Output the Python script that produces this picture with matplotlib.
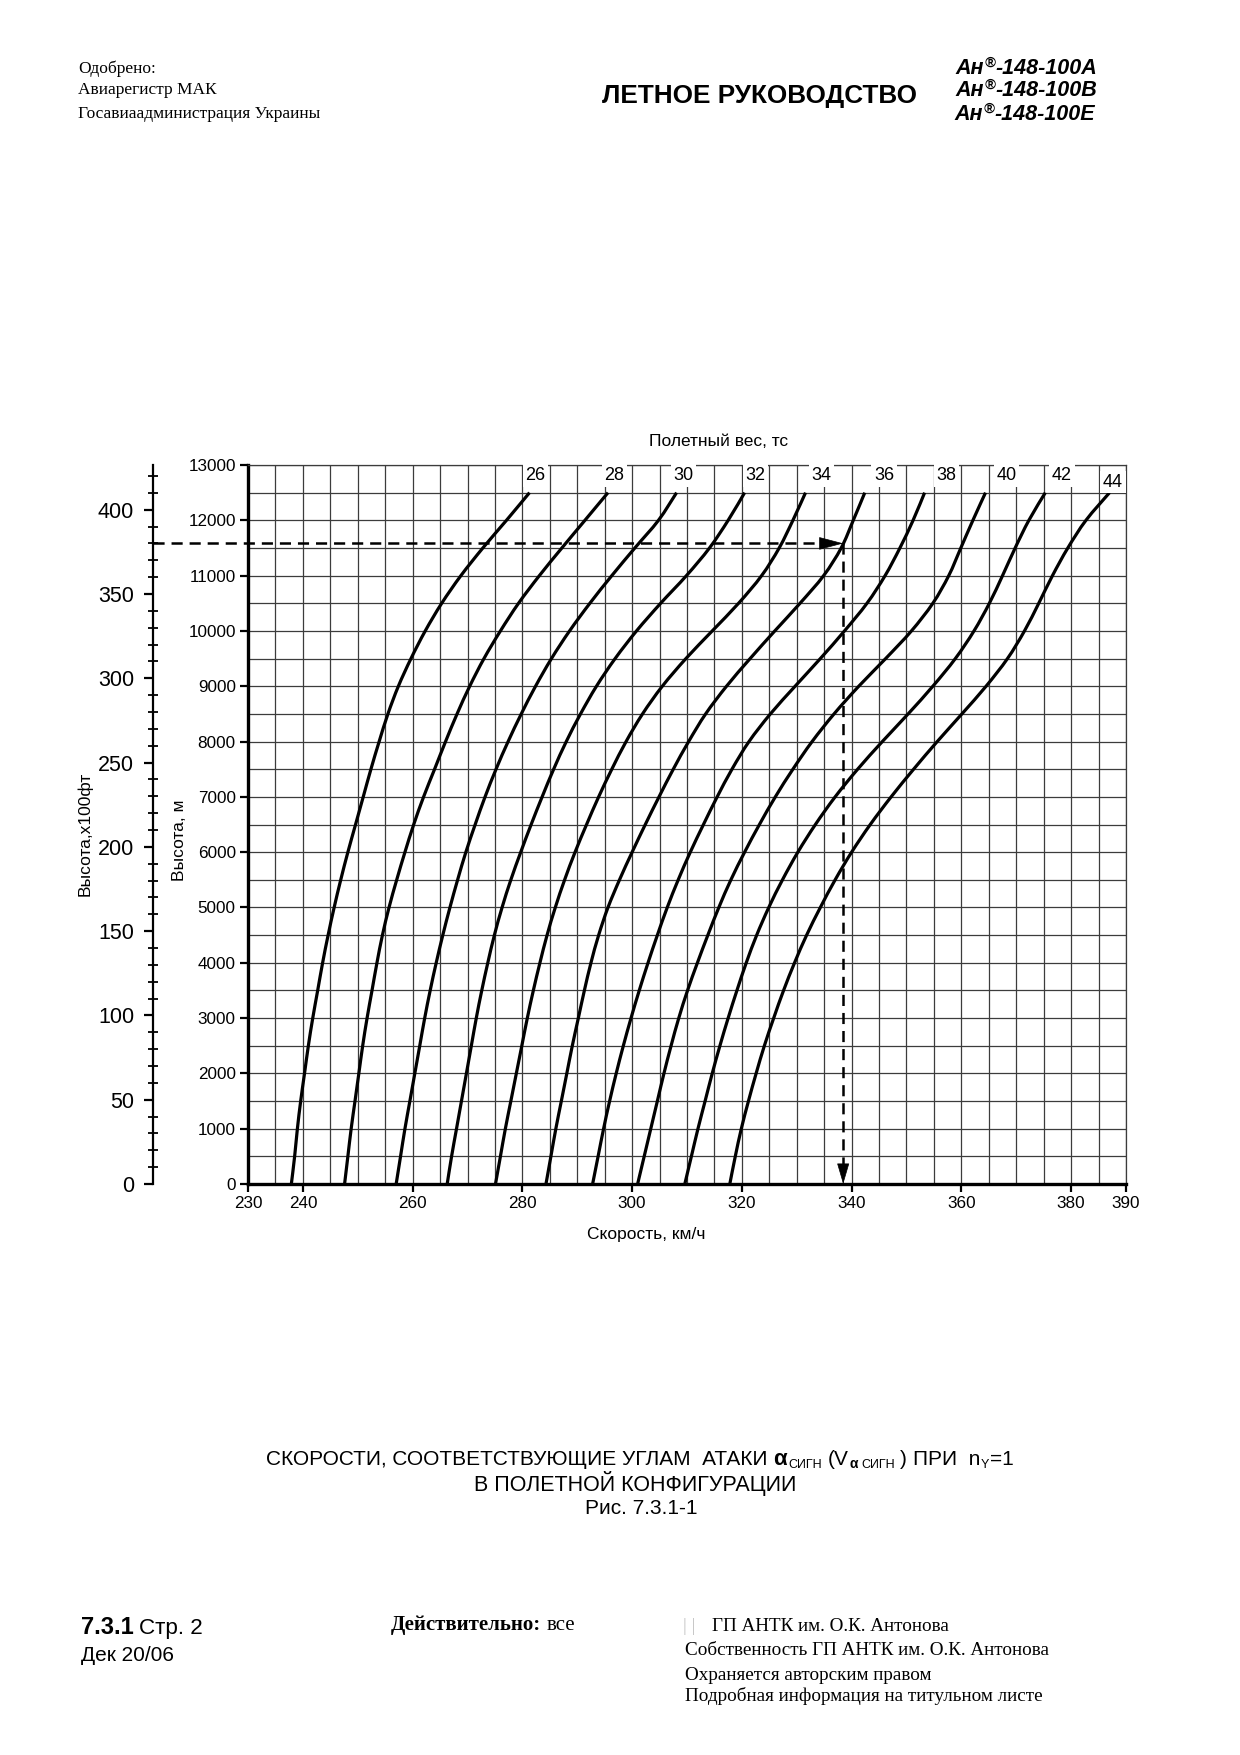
import numpy as np
import matplotlib
matplotlib.use("Agg")
import matplotlib.pyplot as plt
from matplotlib.ticker import MultipleLocator, FixedLocator
from matplotlib.path import Path
from matplotlib.patches import PathPatch

# ---------------- data ----------------
altitude_m = [0, 500, 1000, 1500, 2000, 2500, 3000, 3500, 4000, 4500, 5000, 5500, 6000,
              6500, 7000, 7500, 8000, 8500, 9000, 9500, 10000, 10500, 11000, 11500, 12000, 12500]

weights_t = [26, 28, 30, 32, 34, 36, 38, 40, 42, 44]

v26 = [237.9, 238.5, 239.0, 239.6, 240.3, 241.0, 241.8, 242.7, 243.6, 244.6, 245.7, 246.9, 248.2,
       249.6, 251.0, 252.4, 253.9, 255.5, 257.4, 259.7, 262.3, 265.3, 268.8, 272.8, 277.1, 281.3]
v28 = [247.6, 248.2, 248.8, 249.5, 250.2, 250.9, 251.7, 252.6, 253.5, 254.5, 255.7, 257.1, 258.6,
       260.2, 262.0, 264.0, 266.0, 268.1, 270.4, 273.0, 276.0, 279.3, 283.1, 287.2, 291.4, 295.6]
v30 = [257.0, 257.8, 258.6, 259.5, 260.4, 261.3, 262.2, 263.2, 264.3, 265.5, 266.8, 268.2, 269.7,
       271.4, 273.2, 275.2, 277.4, 279.8, 282.4, 285.3, 288.6, 292.3, 296.3, 300.5, 304.8, 308.1]
v32 = [266.3, 267.1, 268.0, 268.9, 269.8, 270.7, 271.6, 272.6, 273.7, 274.9, 276.3, 277.9, 279.7,
       281.6, 283.6, 285.7, 288.0, 290.6, 293.5, 296.9, 300.8, 305.2, 309.9, 314.1, 317.5, 320.5]
v34 = [275.1, 276.0, 276.9, 277.9, 278.9, 279.9, 280.9, 282.0, 283.2, 284.5, 286.0, 287.7, 289.6,
       291.7, 293.9, 296.3, 298.9, 301.9, 305.5, 309.8, 314.6, 319.4, 323.6, 326.8, 329.3, 331.6]
v36 = [284.3, 285.2, 286.1, 287.1, 288.1, 289.1, 290.2, 291.3, 292.5, 293.9, 295.6, 297.7, 300.0,
       302.4, 304.9, 307.5, 310.3, 313.4, 317.2, 321.5, 326.0, 330.6, 334.9, 338.1, 340.3, 342.4]
v38 = [292.8, 293.8, 294.8, 295.9, 297.1, 298.4, 299.8, 301.3, 302.9, 304.6, 306.4, 308.4, 310.6,
       313.0, 315.5, 318.2, 321.3, 325.2, 329.7, 334.3, 338.7, 342.8, 346.1, 348.8, 351.2, 353.3]
v40 = [301.0, 302.2, 303.4, 304.6, 305.8, 307.1, 308.5, 310.1, 311.9, 313.8, 315.8, 318.0, 320.5,
       323.2, 326.1, 329.3, 332.8, 336.8, 341.3, 346.2, 350.9, 354.8, 357.7, 359.9, 362.1, 364.4]
v42 = [309.6, 310.8, 312.0, 313.3, 314.6, 316.0, 317.5, 319.1, 320.8, 322.7, 324.9, 327.4, 330.2,
       333.4, 337.0, 341.1, 345.6, 350.3, 354.8, 358.9, 362.3, 365.1, 367.5, 369.8, 372.3, 375.3]
v44 = [317.8, 318.8, 319.9, 321.2, 322.6, 324.1, 325.8, 327.6, 329.6, 331.8, 334.3, 337.0, 340.0,
       343.4, 347.2, 351.3, 355.6, 360.1, 364.5, 368.4, 371.5, 374.1, 376.6, 379.4, 382.7, 387.0]
speed_series = [v26, v28, v30, v32, v34, v36, v38, v40, v42, v44]

# curve label anchor speeds (km/h) along the top row
label_speed = [282.4, 296.8, 309.4, 322.5, 334.5, 345.9, 357.3, 368.2, 378.3, 387.6]

x_ticks = [230, 240, 260, 280, 300, 320, 340, 360, 380, 390]
y_ticks_m = list(range(0, 13001, 1000))
ft_major = list(range(0, 401, 50))
ft_minor = list(range(0, 421, 10))

example_fl = 380          # x100 ft
example_weight = 36       # t

# ---------------- figure ----------------
W, H = 1240, 1755
plt.rcParams['lines.scale_dashes'] = False
SANS = ['Liberation Sans', 'DejaVu Sans']
SERIF = ['Liberation Serif', 'DejaVu Serif']
plt.rcParams['font.family'] = SANS

fig = plt.figure(figsize=(W / 100, H / 100), dpi=100)
renderer = fig.canvas.get_renderer()


def fx(x):
    return x / W


def fy(y):
    return 1 - y / H


def run(x, y, parts, ha='left'):
    items = []
    cx = 0.0
    for part in parts:
        s, props = part[0], part[1]
        dy = part[2] if len(part) > 2 else 0
        gap = part[3] if len(part) > 3 else 0
        cx += gap
        t = fig.text(0, 0, s, ha='left', va='baseline', **props)
        w = t.get_window_extent(renderer).width
        items.append((t, cx, dy))
        cx += w
    x0 = {'left': x, 'center': x - cx / 2, 'right': x - cx}[ha]
    for t, off, dy in items:
        t.set_position((fx(x0 + off), fy(y - dy)))


def smooth_path(xs, ys):
    """Smooth Catmull-Rom style Bezier path passing through every read point."""
    p = np.column_stack([xs, ys]).astype(float)
    n = len(p)
    verts = [p[0]]
    codes = [Path.MOVETO]
    for i in range(n - 1):
        p0 = p[i - 1] if i > 0 else p[i]
        p1, p2 = p[i], p[i + 1]
        p3 = p[i + 2] if i + 2 < n else p[i + 1]
        c1 = p1 + (p2 - p0) / 6.0
        c2 = p2 - (p3 - p1) / 6.0
        verts += [c1, c2, p2]
        codes += [Path.CURVE4] * 3
    return Path(verts, codes)


AX_L, AX_R, AX_T, AX_B = 248, 1126, 465, 1184
ax = fig.add_axes([fx(AX_L), fy(AX_B), (AX_R - AX_L) / W, (AX_B - AX_T) / H])
ax.set_xlim(230, 390)
ax.set_ylim(0, 13000)

GRID = '#3c3c3c'
ax.xaxis.set_minor_locator(MultipleLocator(5))
ax.yaxis.set_minor_locator(MultipleLocator(500))
ax.grid(which='both', color=GRID, lw=0.9, zorder=1)
ax.set_axisbelow(True)
ax.set_xticks(x_ticks)
ax.set_xticklabels([str(v) for v in x_ticks])
ax.set_yticks(y_ticks_m)
ax.set_yticklabels([str(v) for v in y_ticks_m])
ax.tick_params(which='minor', length=0)
ax.tick_params(which='major', direction='out', length=5.8, width=1.6, labelsize=12.3, pad=3, color='black')
for s in ['left', 'bottom']:
    ax.spines[s].set_linewidth(2.4)
for s in ['top', 'right']:
    ax.spines[s].set_linewidth(0.9)
    ax.spines[s].set_color(GRID)

for v in speed_series:
    ax.add_patch(PathPatch(smooth_path(v, altitude_m), fc='none', ec='black', lw=2.3,
                           zorder=4, capstyle='butt'))

for w, lx in zip(weights_t, label_speed):
    ly = 12690 if w == 44 else 12810
    ax.text(lx, ly, str(w), ha='center', va='center', fontsize=13, zorder=6, clip_on=False,
            bbox=dict(boxstyle='square,pad=0.15', fc='white', ec='none'))

# ---------------- feet axis ----------------
FT_X = 153
ax_ft = fig.add_axes([fx(FT_X), fy(AX_B), 0.0001, (AX_B - AX_T) / H])
ax_ft.patch.set_visible(False)
ax_ft.set_ylim(0, 13000 / 30.48)
ax_ft.set_xticks([])
for s in ['right', 'top', 'bottom']:
    ax_ft.spines[s].set_visible(False)
ax_ft.spines['left'].set_linewidth(1.6)
ax_ft.yaxis.set_major_locator(FixedLocator(ft_major))
ax_ft.yaxis.set_minor_locator(FixedLocator(ft_minor))
ax_ft.set_yticklabels([str(v) for v in ft_major])
ax_ft.tick_params(which='major', direction='out', length=6.5, width=1.6, labelsize=15.5, pad=7)
ax_ft.tick_params(which='minor', direction='inout', length=6.5, width=1.3)

# ---------------- example reading ----------------
example_alt = example_fl * 30.48
example_speed = float(np.interp(example_alt, altitude_m, speed_series[weights_t.index(example_weight)]))
x_ft_data = ax.transData.inverted().transform(fig.transFigure.transform((fx(FT_X), 0.5)))[0]

dash_kw = dict(color='black', lw=1.8, dashes=(8, 5), zorder=5, clip_on=False)
ax.plot([x_ft_data, example_speed - 3.6], [example_alt, example_alt], **dash_kw)
ax.plot([example_speed, example_speed], [example_alt, 330], **dash_kw)
ax.annotate('', xy=(example_speed, example_alt), xytext=(-16, 0), textcoords='offset points',
            arrowprops=dict(arrowstyle='-|>,head_length=0.8,head_width=0.21', mutation_scale=20,
                            color='black', lw=0.5, shrinkA=0, shrinkB=0), zorder=7)
ax.annotate('', xy=(example_speed, 0), xytext=(0, 13.5), textcoords='offset points',
            arrowprops=dict(arrowstyle='-|>,head_length=0.68,head_width=0.2', mutation_scale=20,
                            color='black', lw=0.5, shrinkA=0, shrinkB=0), zorder=7)

# ---------------- axis titles ----------------
fig.text(fx(719), fy(441), "Полетный вес, тс", ha='center', va='center', fontsize=12.5)
fig.text(fx(646), fy(1234), "Скорость, км/ч", ha='center', va='center', fontsize=12.5)
fig.text(fx(180), fy(840), "Высота, м", ha='center', va='center', rotation=90, fontsize=12.5)
fig.text(fx(85), fy(834), "Высота,х100фт", ha='center', va='center', rotation=90, fontsize=12.5)

# ---------------- header ----------------
HS = dict(fontsize=12.5, family=SERIF)
run(78, 73, [("Одобрено:", HS)])
run(78, 94, [("Авиарегистр МАК", HS)])
run(78, 118, [("Госавиаадминистрация Украины", HS)])
run(602, 103, [("ЛЕТНОЕ РУКОВОДСТВО", dict(fontsize=18.8, weight='bold'))])
MB = dict(fontsize=15.5, weight='bold', style='italic')
MS = dict(fontsize=10.5, weight='bold', style='italic')
for yb, name in [(74, "-148-100A"), (96, "-148-100B"), (120, "-148-100E")]:
    run(1097 if name[-1] != 'E' else 1095, yb, [("Ан", MB), ("®", MS, 7, 1), (name, MB)], ha='right')

# ---------------- caption ----------------
P = dict(fontsize=15)
SUB = dict(fontsize=9)
run(640, 1465, [("СКОРОСТИ, СООТВЕТСТВУЮЩИЕ УГЛАМ  АТАКИ", P),
                ("α", dict(fontsize=16, weight='bold'), 0, 6),
                ("СИГН", SUB, -3, 1),
                ("(V", P, 0, 6),
                ("α", dict(fontsize=10, weight='bold'), -3, 1),
                ("СИГН", SUB, -3, 3),
                (")", P, 0, 5),
                ("ПРИ  n", P, 0, 6),
                ("Y", SUB, -3, 1),
                ("=1", P, 0, 1)], ha='center')
run(635, 1491, [("В ПОЛЕТНОЙ КОНФИГУРАЦИИ", dict(fontsize=15.5))], ha='center')
run(641, 1514, [("Рис. 7.3.1-1", P)], ha='center')

# ---------------- footer ----------------
FS = dict(fontsize=13.8, family=SERIF)
run(81, 1634, [("7.3.1", dict(fontsize=17, weight='bold')), ("Стр. 2", dict(fontsize=16.2), 0, 5)])
run(81, 1661, [("Дек 20/06", dict(fontsize=15))])
run(391, 1630, [("Действительно:", dict(fontsize=15, family=SERIF, weight='bold')),
                ("все", dict(fontsize=15, family=SERIF), 0, 5)])
run(683, 1631, [("| |", dict(fontsize=13.8, family=SERIF, color='#c8c8c8')),
                ("ГП АНТК им. О.К. Антонова", FS, 0, 17)])
run(685, 1655, [("Собственность ГП АНТК им. О.К. Антонова", FS)])
run(685, 1680, [("Охраняется авторским правом", FS)])
run(685, 1701, [("Подробная информация на титульном листе", FS)])

fig.savefig("out.png", dpi=100, facecolor='white')
